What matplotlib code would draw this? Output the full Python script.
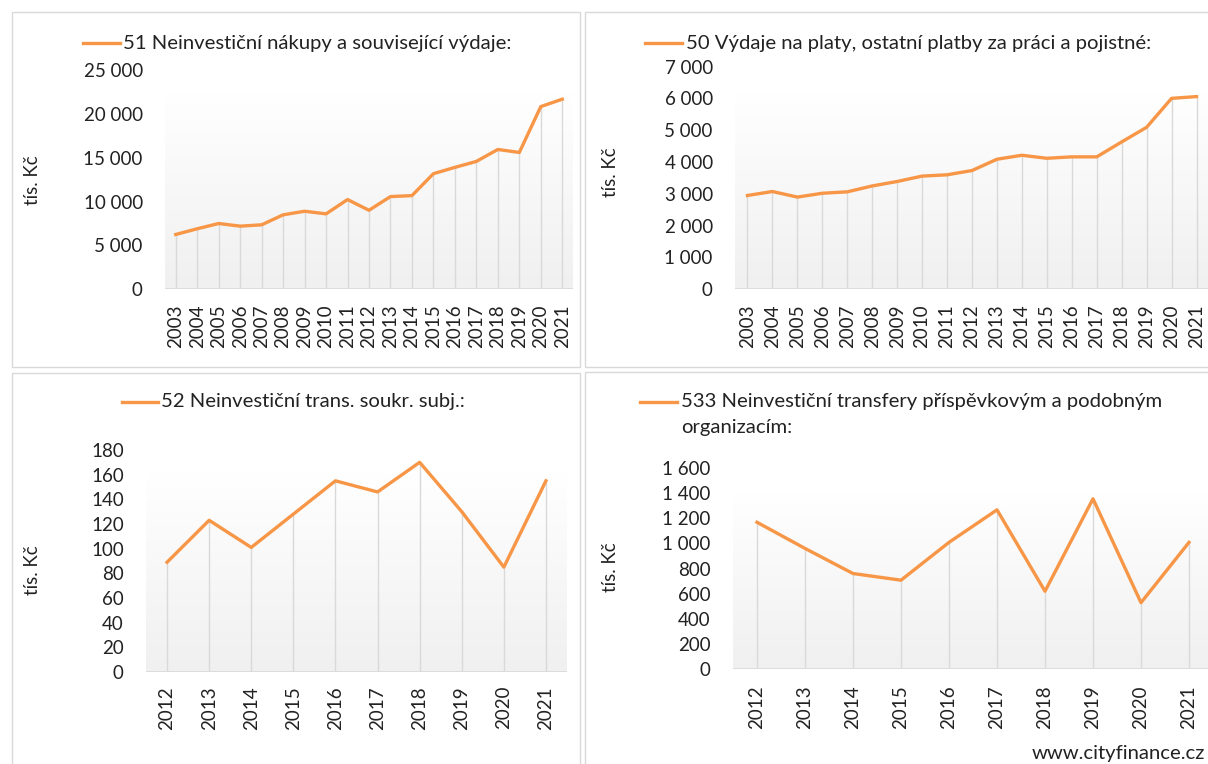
# Four small line charts: City budget expenditure items (tis. Kč)
import numpy as np
import matplotlib
matplotlib.use("Agg")
import matplotlib.pyplot as plt
from matplotlib.lines import Line2D
from matplotlib.patches import Rectangle
from matplotlib.ticker import FuncFormatter, MultipleLocator

plt.rcParams["font.family"] = ["Lato", "DejaVu Sans"]

# -----------------------------
# Data
# -----------------------------
years_long = [str(y) for y in range(2003, 2022)]
years_short = [str(y) for y in range(2012, 2022)]

vals_51 = [6250, 6900, 7500, 7200, 7350, 8490, 8900, 8600, 10230, 9010,
           10570, 10680, 13180, 13900, 14580, 15940, 15600, 20830, 21670]
vals_50 = [2950, 3075, 2900, 3020, 3065, 3250, 3390, 3560, 3600, 3735,
           4090, 4215, 4120, 4165, 4165, 4635, 5095, 6005, 6060]
vals_52 = [89, 123, 101, 128, 155, 146, 170, 130, 85, 155]
vals_533 = [1168, 960, 760, 707, 1008, 1267, 619, 1355, 528, 1008]

title_51 = ["51 Neinvestiční nákupy a související výdaje:"]
title_50 = ["50 Výdaje na platy, ostatní platby za práci a pojistné:"]
title_52 = ["52 Neinvestiční trans. soukr. subj.:"]
title_533 = ["533 Neinvestiční transfery příspěvkovým a podobným", "organizacím:"]

ylabel = "tís. Kč"
ORANGE = "#F79646"
GRID = "#d9d9d9"
TXT = "#222222"
TITLE_FS = 14.6

W, H = 1208, 764
fig = plt.figure(figsize=(W / 100, H / 100), dpi=100)


def fx(x):
    return x / W


def fy(y):
    return 1 - y / H


def space_thousands(v, pos):
    return f"{int(round(v)):,}".replace(",", " ")


def make_panel(box, plot, labels, values, ymax, ystep, grad_top,
               title_lines, leg, ylab_xy, xpad):
    # panel frame
    bx0, by0, bx1, by1 = box
    fig.add_artist(Rectangle((fx(bx0), fy(by1)), (bx1 - bx0) / W, (by1 - by0) / H,
                             transform=fig.transFigure, fill=False,
                             edgecolor=GRID, lw=1.0))

    left, top, right, bottom = plot
    ax = fig.add_axes([fx(left), fy(bottom), (right - left) / W, (bottom - top) / H])
    ax.set_facecolor("none")

    # gradient plot area background
    g = np.linspace(255, 240, 256) / 255.0
    grad = np.stack([g, g, g], axis=-1).reshape(256, 1, 3)
    ax.imshow(grad, extent=[0, 1, 0, grad_top], transform=ax.transAxes,
              aspect="auto", zorder=0)

    x = np.arange(len(labels))
    ax.vlines(x, 0, values, colors=GRID, lw=1.0, zorder=1)
    ax.plot(x, values, color=ORANGE, lw=2.4, zorder=3, solid_joinstyle="round")
    ax.axhline(0, color=GRID, lw=1.2, zorder=2)

    ax.set_xlim(-0.5, len(labels) - 0.5)
    ax.set_ylim(0, ymax)
    ax.yaxis.set_major_locator(MultipleLocator(ystep))
    ax.yaxis.set_major_formatter(FuncFormatter(space_thousands))
    ax.set_xticks(x)
    ax.set_xticklabels(labels, rotation=90)
    ax.tick_params(axis="y", length=0, pad=16, labelsize=13.5, labelcolor=TXT)
    ax.tick_params(axis="x", length=0, pad=xpad, labelsize=13.5, labelcolor=TXT)
    for s in ax.spines.values():
        s.set_visible(False)

    # legend used as a title
    lx0, lx1, ly, tx = leg
    fig.add_artist(Line2D([fx(lx0), fx(lx1)], [fy(ly), fy(ly)],
                          transform=fig.transFigure, color=ORANGE, lw=2.4))
    for i, line in enumerate(title_lines):
        fig.text(fx(tx), fy(ly + 26 * i), line, ha="left", va="center",
                 fontsize=TITLE_FS, color=TXT)

    fig.text(fx(ylab_xy[0]), fy(ylab_xy[1]), ylabel, rotation=90,
             ha="center", va="center", fontsize=13.5, color=TXT)
    return ax


# top-left: 51
make_panel((12, 12, 580, 367), (165, 70, 573, 289.3), years_long, vals_51,
           25000, 5000, 0.895, title_51, (83, 120, 43, 123), (32, 180), 11)

# top-right: 50
make_panel((585, 12, 1215, 367), (735, 66.7, 1209, 289.3), years_long, vals_50,
           7000, 1000, 0.888, title_50, (645, 682, 43, 686), (610, 172), 11)

# bottom-left: 52
make_panel((12, 373, 580, 770), (146, 450, 567, 672), years_short, vals_52,
           180, 20, 0.896, title_52, (122, 158, 402, 161), (32, 570), 10)

# bottom-right: 533
make_panel((585, 372, 1215, 770), (733, 468, 1213, 669), years_short, vals_533,
           1600, 200, 0.875, title_533, (640, 677, 402, 681), (610, 567), 12)

fig.text(fx(1205), fy(753), "www.cityfinance.cz", ha="right", va="center",
         fontsize=14.6, color=TXT)

fig.savefig("out.png", dpi=100, facecolor="white")
